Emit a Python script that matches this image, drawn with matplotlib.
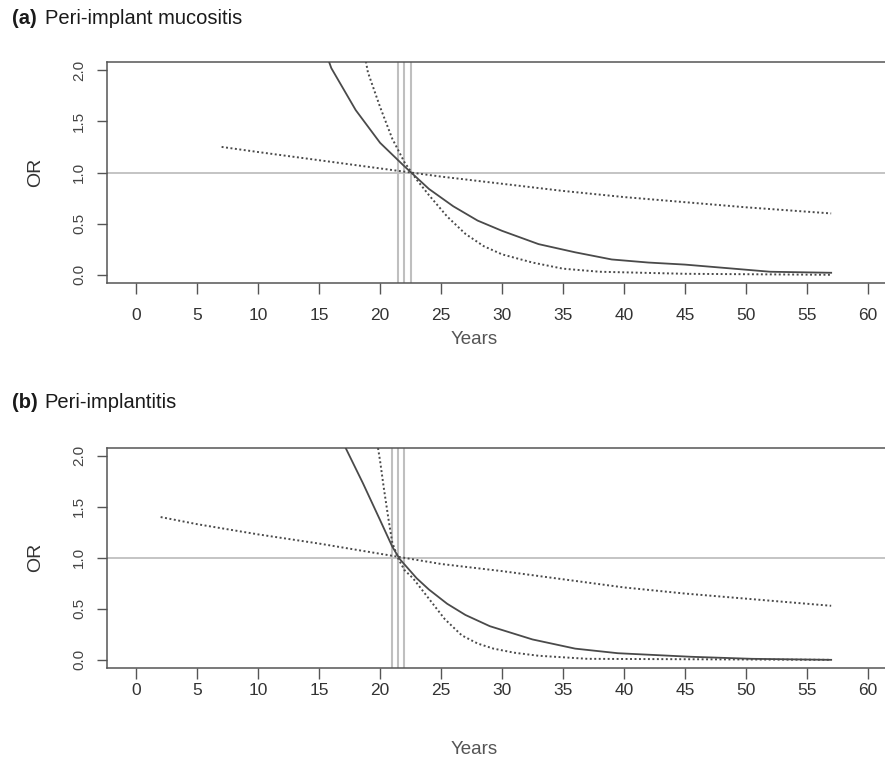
import matplotlib
matplotlib.use("Agg")
import matplotlib.pyplot as plt

plt.rcParams['font.family'] = ['Liberation Sans', 'DejaVu Sans']

# panel (a) peri-implant mucositis
a_mid_years = [15, 16, 18, 20, 22, 24, 26, 28, 30, 33, 36, 39, 42, 45, 48, 52, 57]
a_mid_or = [2.35, 2.02, 1.61, 1.29, 1.06, 0.84, 0.67, 0.53, 0.43, 0.30, 0.22, 0.15, 0.12, 0.10, 0.07, 0.03, 0.02]
a_steep_years = [18.5, 19, 20, 21, 22, 23, 24, 25.5, 27, 28.5, 30, 32.5, 35, 38, 45, 57]
a_steep_or = [2.30, 1.98, 1.64, 1.33, 1.10, 0.93, 0.78, 0.57, 0.40, 0.28, 0.20, 0.12, 0.06, 0.03, 0.01, 0.0]
a_flat_years = [7, 10, 15, 20, 25, 30, 35, 40, 45, 50, 57]
a_flat_or = [1.25, 1.20, 1.12, 1.04, 0.96, 0.89, 0.82, 0.76, 0.71, 0.66, 0.60]
a_vlines = [21.5, 22.0, 22.5]

# panel (b) peri-implantitis
b_mid_years = [16, 17, 18.6, 20, 21, 21.6, 23, 24, 25.5, 27, 29, 32.5, 36, 39.5, 45.5, 50.5, 57]
b_mid_or = [2.40, 2.12, 1.73, 1.37, 1.11, 0.99, 0.80, 0.69, 0.55, 0.44, 0.33, 0.20, 0.11, 0.065, 0.03, 0.01, 0.0]
b_steep_years = [19.6, 20, 20.3, 20.7, 21, 21.5, 22, 22.7, 24, 25.3, 26.7, 28, 29.3, 31, 33, 37, 57]
b_steep_or = [2.25, 1.95, 1.69, 1.37, 1.15, 0.99, 0.88, 0.80, 0.60, 0.40, 0.24, 0.16, 0.11, 0.07, 0.04, 0.01, 0.0]
b_flat_years = [2, 5, 10, 15, 20, 25, 30, 35, 40, 45, 50, 57]
b_flat_or = [1.40, 1.33, 1.23, 1.14, 1.04, 0.94, 0.87, 0.79, 0.71, 0.65, 0.60, 0.53]
b_vlines = [21.0, 21.5, 22.0]

xticks = list(range(0, 61, 5))
yticks = [0.0, 0.5, 1.0, 1.5, 2.0]

W, H = 885, 761
fig = plt.figure(figsize=(8.85, 7.61), dpi=100)

line_col = '#4a4a4a'
grey = '#bfbfbf'


def panel(rect, mid, steep, flat, vl, xpad, years_y):
    ax = fig.add_axes(rect)
    ax.axhline(1.0, color=grey, lw=1.3, zorder=1)
    for v in vl:
        ax.axvline(v, color=grey, lw=1.5, zorder=1)
    ax.plot(mid[0], mid[1], color=line_col, lw=1.3, zorder=3)
    ax.plot(steep[0], steep[1], color=line_col, lw=1.4, ls=(0, (1, 1.3)), zorder=3)
    ax.plot(flat[0], flat[1], color=line_col, lw=1.4, ls=(0, (1, 1.3)), zorder=3)
    ax.set_xlim(-2.4, 62.4)
    ax.set_ylim(-0.08, 2.08)
    ax.set_xticks(xticks)
    ax.set_yticks(yticks)
    ax.set_yticklabels(['%.1f' % t for t in yticks], rotation=90, va='center')
    ax.spines['right'].set_visible(False)
    for s in ['left', 'top', 'bottom']:
        ax.spines[s].set_color('#555555')
        ax.spines[s].set_linewidth(1.1)
    ax.tick_params(axis='x', length=8, width=1.0, color='#555555',
                   labelsize=12.5, labelcolor='#333333', pad=xpad)
    ax.tick_params(axis='y', length=7, width=1.0, color='#555555',
                   labelsize=11, labelcolor='#444444', pad=8)
    ax.text(-0.09, 0.5, 'OR', transform=ax.transAxes, rotation=90,
            ha='center', va='center', fontsize=14, color='#333333')
    ax.text(0.4646, years_y, 'Years', transform=ax.transAxes,
            ha='center', va='center', fontsize=13.5, color='#555555')
    return ax


ax_a = panel([107 / W, 1 - 283 / H, 790 / W, 221 / H],
             (a_mid_years, a_mid_or), (a_steep_years, a_steep_or),
             (a_flat_years, a_flat_or), a_vlines, 10, (283 - 339) / 221)
ax_b = panel([107 / W, 1 - 668 / H, 790 / W, 220.3 / H],
             (b_mid_years, b_mid_or), (b_steep_years, b_steep_or),
             (b_flat_years, b_flat_or), b_vlines, 3, (668 - 750) / 220.3)

fig.text(12 / W, 1 - 18 / H, '(a)', fontsize=14.5, fontweight='bold', color='#1a1a1a', va='center')
fig.text(45 / W, 1 - 18 / H, 'Peri-implant mucositis', fontsize=14.5, color='#1a1a1a', va='center')
fig.text(12 / W, 1 - 403 / H, '(b)', fontsize=14.5, fontweight='bold', color='#1a1a1a', va='center')
fig.text(44 / W, 1 - 403 / H, 'Peri-implantitis', fontsize=14.5, color='#1a1a1a', va='center')

fig.savefig('out.png', dpi=100)
